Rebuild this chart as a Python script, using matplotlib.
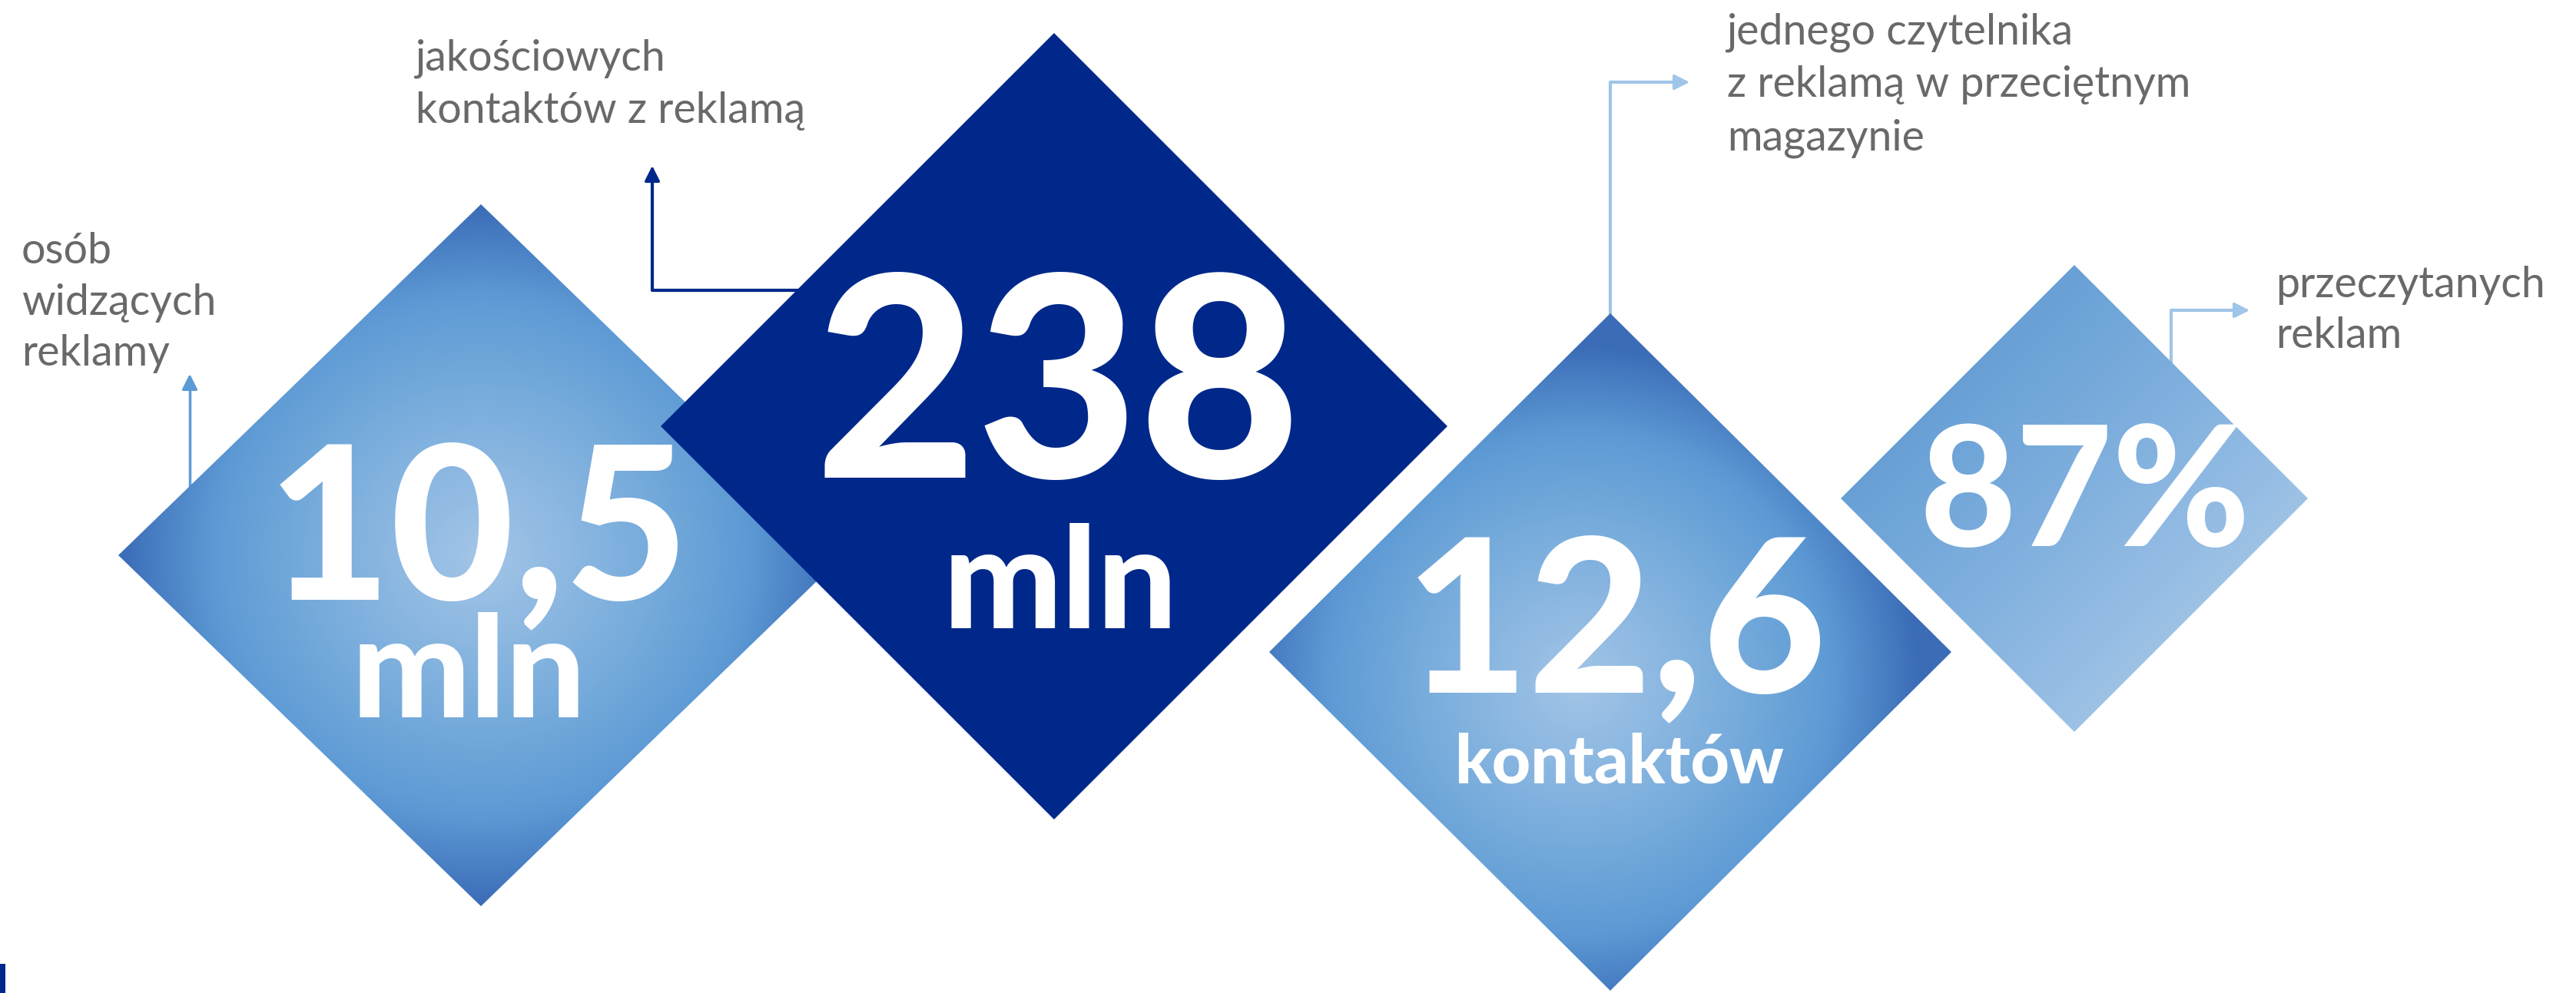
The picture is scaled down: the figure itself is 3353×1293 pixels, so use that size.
import numpy as np
import matplotlib
matplotlib.use('Agg')
import matplotlib.pyplot as plt
from matplotlib.patches import Polygon, Rectangle
from matplotlib.colors import LinearSegmentedColormap

# chart content
values = ['10,5', '238', '12,6', '87%']
units = ['mln', 'mln', 'kontaktów', '']
captions = [['osób', 'widzących', 'reklamy'],
            ['jakościowych', 'kontaktów z reklamą'],
            ['jednego czytelnika', 'z reklamą w przeciętnym', 'magazynie'],
            ['przeczytanych', 'reklam']]

# layout in pixel coords (y down)
centers = [(626, 723), (1372, 555), (2096, 849), (2700, 649)]
halfs = [(472, 457), (512, 512), (444, 441), (304, 304)]
value_pos = [(622, 780, 200), (1377, 622, 262), (2103, 901, 200), (2714, 711, 156)]
unit_pos = [(610, 934, 132), (1380, 818, 132), (2108, 1020, 63), (0, 0, 10)]
cap_pos = [(28, 343, 66.5), (541, 91, 69), (2248, 58, 68.5), (2962, 387, 66)]

navy = '#00288a'
gray = '#6b6869'
radial = LinearSegmentedColormap.from_list('rad', [(0, '#a3c5e7'), (0.5, '#74aadb'),
                                                   (0.75, '#5c99d4'), (1.0, '#3b6cb7')])
linear = LinearSegmentedColormap.from_list('lin', ['#68a0d6', '#80b0de', '#9dc2e6'])

W, H = 3353, 1293
fig = plt.figure(figsize=(W / 100, H / 100), dpi=100)
ax = fig.add_axes([0, 0, 1, 1])
ax.set_xlim(0, W)
ax.set_ylim(H, 0)
ax.axis('off')


def diamond(cx, cy, hx, hy):
    return [(cx, cy - hy), (cx + hx, cy), (cx, cy + hy), (cx - hx, cy)]


def grad_diamond(i, kind, off=(0, 0), z=1):
    cx, cy = centers[i]
    hx, hy = halfs[i]
    poly = Polygon(diamond(cx, cy, hx, hy), closed=True, facecolor='none', edgecolor='none')
    ax.add_patch(poly)
    xs = np.linspace(cx - hx, cx + hx, 400)
    ys = np.linspace(cy - hy, cy + hy, 400)
    X, Y = np.meshgrid(xs, ys)
    if kind == 'radial':
        r = np.hypot((X - cx - off[0]) / hx, (Y - cy - off[1]) / hy)
        img = radial(np.clip(r, 0, 1))
    else:
        t = ((X + Y) - (cx + cy - hy)) / (2 * hy)
        img = linear(np.clip(t, 0, 1))
    im = ax.imshow(img, extent=(cx - hx, cx + hx, cy - hy, cy + hy), origin='lower',
                   interpolation='bilinear', zorder=z, aspect='auto')
    im.set_clip_path(poly)


grad_diamond(0, 'radial', z=1)
cx, cy = centers[1]
ax.add_patch(Polygon(diamond(cx, cy, *halfs[1]), closed=True, facecolor=navy,
                     edgecolor='none', zorder=2))
grad_diamond(2, 'radial', off=(-40, 40), z=1)
grad_diamond(3, 'linear', z=1)
ax.set_xlim(0, W)
ax.set_ylim(H, 0)

big = dict(family='Lato', weight='black', color='white', ha='center', va='baseline', zorder=5)
for v, (x, y, fs) in zip(values, value_pos):
    ax.text(x, y, v, fontsize=fs, **big)
for u, (x, y, fs) in zip(units, unit_pos):
    if u:
        ax.text(x, y, u, fontsize=fs, **big)

for lines, (x, y, step) in zip(captions, cap_pos):
    for k, line in enumerate(lines):
        ax.text(x, y + k * step, line, fontsize=40, family='Lato', weight='normal',
                color=gray, ha='left', va='baseline')

# connectors
c1, c3 = '#5b9bd5', '#9fc5e8'
ax.plot([247, 247], [634, 500], color=c1, lw=2.5, zorder=0)
ax.annotate('', xy=(247, 484), xytext=(247, 505),
            arrowprops=dict(arrowstyle='-|>', color=c1, lw=2.5, mutation_scale=30))
ax.plot([1039, 849, 849], [378, 378, 230], color=navy, lw=3, zorder=0)
ax.annotate('', xy=(849, 213), xytext=(849, 235),
            arrowprops=dict(arrowstyle='-|>', color=navy, lw=2.5, mutation_scale=30))
ax.plot([2096, 2096, 2185], [408, 107, 107], color=c3, lw=3, zorder=0)
ax.annotate('', xy=(2202, 107), xytext=(2180, 107),
            arrowprops=dict(arrowstyle='-|>', color=c3, lw=2.5, mutation_scale=30))
ax.plot([2826, 2826, 2915], [472, 404, 404], color=c3, lw=3, zorder=0)
ax.annotate('', xy=(2931, 404), xytext=(2910, 404),
            arrowprops=dict(arrowstyle='-|>', color=c3, lw=2.5, mutation_scale=30))

ax.add_patch(Rectangle((0, 1255), 7, 38, facecolor=navy, edgecolor='none'))

fig.savefig('out.png', dpi=100)
